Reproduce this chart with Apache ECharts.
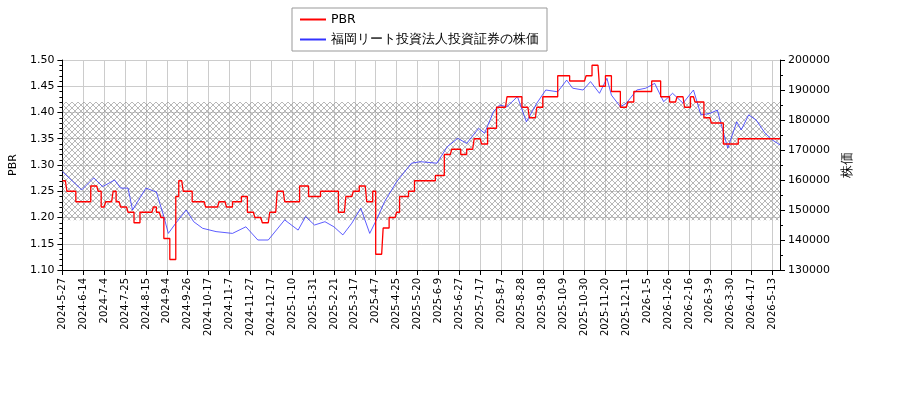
<!DOCTYPE html>
<html><head><meta charset="utf-8">
<script src="https://cdn.jsdelivr.net/npm/echarts@6/dist/echarts.min.js"></script>
<style>body{margin:0;background:#fff}#c{width:900px;height:400px}</style>
</head><body><div id="c"></div>
<script>
const startDate = '2024-05-27'
const endDate = '2026-05-20'
// weekdays with no data (exchange holidays)
const holidays = ['2024-07-15','2024-08-12','2024-09-16','2024-09-23','2024-10-14','2024-11-04','2024-12-31',
  '2025-01-01','2025-01-02','2025-01-03','2025-01-13','2025-02-11','2025-02-24','2025-03-03','2025-03-20','2025-04-29','2025-05-05','2025-05-06',
  '2025-07-21','2025-08-11','2025-09-15','2025-09-23','2025-10-13','2025-11-03','2025-11-24','2025-12-31',
  '2026-01-01','2026-01-02','2026-01-12','2026-02-11','2026-02-23','2026-03-20','2026-04-29','2026-05-04','2026-05-05','2026-05-06']
// stock price knots: [position 0..725 along the axis, price]
const priceDays = [0,20,32,40,53,59,67,71,85,95,102,107,115,125,132,142,155,172,185,197,208,225,238,245,255,265,275,283,292,302,310,318,325,338,352,362,379,389,399,409,421,427,436,441,449,459,463,469,479,489,500,510,516,526,533,543,550,555,563,570,580,590,598,608,617,627,637,645,654,661,666,672,681,686,693,701,710,718,725]
const priceVals = [162800,156700,160700,157800,160000,157300,157300,150000,157300,156000,147800,142200,145600,150000,146100,143900,142800,142200,144400,140000,140000,146700,143300,147800,145000,146100,144400,141700,145600,150600,142200,147200,152800,159400,165600,166100,165600,171100,173900,172200,177200,175600,182800,185000,184400,187800,185000,179400,185600,190000,189400,193300,190600,190000,192800,188900,193900,188300,184400,185600,190000,190600,192200,186100,188900,185600,190000,181700,182200,183300,177800,170600,179400,176700,181700,180000,175600,173300,171700]
// PBR change points
const pbrDays = [0,4,14,29,36,39,44,51,54,59,66,72,79,92,95,99,102,108,115,117,122,131,144,159,166,172,181,187,194,202,210,217,225,239,249,261,279,287,294,300,307,314,317,324,330,337,340,350,356,364,377,386,394,403,409,416,424,429,438,449,464,472,479,486,500,513,529,535,542,549,554,564,571,577,596,604,614,621,628,634,639,648,656,668,683]
const pbrVals = [1.27,1.25,1.23,1.26,1.25,1.22,1.23,1.25,1.23,1.22,1.21,1.19,1.21,1.22,1.21,1.20,1.16,1.12,1.24,1.27,1.25,1.23,1.22,1.23,1.22,1.23,1.24,1.21,1.20,1.19,1.21,1.25,1.23,1.26,1.24,1.25,1.21,1.24,1.25,1.26,1.23,1.25,1.13,1.18,1.20,1.21,1.24,1.25,1.27,1.27,1.28,1.32,1.33,1.32,1.33,1.35,1.34,1.37,1.41,1.43,1.41,1.39,1.41,1.43,1.47,1.46,1.47,1.49,1.45,1.47,1.44,1.41,1.42,1.44,1.46,1.43,1.42,1.43,1.41,1.43,1.42,1.39,1.38,1.34,1.35]
const bandLow = 1.195
const bandHigh = 1.42

const dates = []
const iso = d => d.toISOString().slice(0, 10)
for (let t = new Date(startDate + 'T00:00:00Z'); iso(t) <= endDate; t = new Date(t.getTime() + 86400000)) {
  const wd = t.getUTCDay()
  if (wd === 0 || wd === 6 || holidays.includes(iso(t))) continue
  dates.push(t.getUTCFullYear() + '-' + (t.getUTCMonth() + 1) + '-' + t.getUTCDate())
}
const n = dates.length
const toIdx = d => Math.min(n - 1, Math.round(d * (n - 1) / 725))
const price = new Array(n).fill(null)
priceDays.forEach((d, i) => { price[toIdx(d)] = priceVals[i] })
const pbrIdx = pbrDays.map(toIdx)
const pbr = []
let k = 0
for (let i = 0; i < n; i++) {
  while (k + 1 < pbrIdx.length && pbrIdx[k + 1] <= i) k++
  pbr.push(pbrVals[k])
}

const pat = document.createElement('canvas')
pat.width = 6; pat.height = 6
const g = pat.getContext('2d')
g.strokeStyle = '#888'; g.lineWidth = 0.6
g.beginPath(); g.moveTo(0, 0); g.lineTo(6, 6); g.moveTo(6, 0); g.lineTo(0, 6); g.stroke()

const chart = echarts.init(document.getElementById('c'))
const font = 'DejaVu Sans'
chart.setOption({
  animation: false,
  textStyle: { fontFamily: font },
  legend: {
    orient: 'vertical', left: 292, top: 8, padding: [5, 8, 5, 8],
    borderColor: '#999', borderWidth: 1, itemGap: 7,
    itemWidth: 26, itemHeight: 2, icon: 'rect',
    textStyle: { fontSize: 12.5, color: '#000', fontFamily: font },
    data: ['PBR', '福岡リート投資法人投資証券の株価']
  },
  grid: { left: 60, right: 120, top: 60, bottom: 130 },
  xAxis: {
    type: 'category', data: dates, boundaryGap: false,
    axisLine: { lineStyle: { color: '#000' } },
    axisTick: { interval: 13, lineStyle: { color: '#000' } },
    axisLabel: { interval: 13, rotate: 90, fontSize: 10, color: '#000', hideOverlap: false },
    splitLine: { show: true, interval: 13, lineStyle: { color: '#ccc' } }
  },
  yAxis: [{
    type: 'value', min: 1.10, max: 1.50, interval: 0.05, name: 'PBR',
    nameLocation: 'middle', nameGap: 38, nameTextStyle: { fontSize: 11, color: '#000' },
    axisLine: { show: true, lineStyle: { color: '#000' } }, axisTick: { show: true },
    minorTick: { show: true, splitNumber: 5 },
    axisLabel: { formatter: v => v.toFixed(2), fontSize: 11, color: '#000' },
    splitLine: { lineStyle: { color: '#ccc' } }
  }, {
    type: 'value', min: 130000, max: 200000, interval: 10000, name: '株価',
    nameLocation: 'middle', nameGap: 52, nameRotate: 90, nameTextStyle: { fontSize: 13, color: '#000' },
    axisLine: { show: true, lineStyle: { color: '#000' } }, axisTick: { show: true },
    minorTick: { show: true, splitNumber: 2 },
    axisLabel: { formatter: v => String(v), fontSize: 11, color: '#000' }, splitLine: { show: false }
  }],
  series: [{
    name: 'PBR', type: 'line', step: 'end', data: pbr, showSymbol: false,
    lineStyle: { color: '#ff0000', width: 1.3 }, itemStyle: { color: '#ff0000' }, z: 3,
    markArea: { silent: true, itemStyle: { color: { image: pat, repeat: 'repeat' } },
      data: [[{ yAxis: bandLow }, { yAxis: bandHigh }]] }
  }, {
    name: '福岡リート投資法人投資証券の株価', type: 'line', yAxisIndex: 1, data: price,
    connectNulls: true, showSymbol: false,
    lineStyle: { color: '#3333ff', width: 0.8 }, itemStyle: { color: '#3333ff' }, z: 2
  }]
})
</script></body></html>
